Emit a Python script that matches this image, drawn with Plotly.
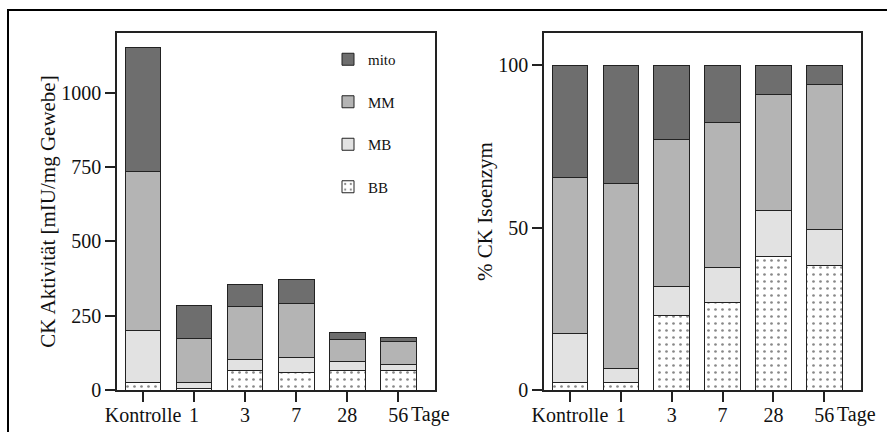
import plotly.graph_objects as go

categories = ["Kontrolle", "1", "3", "7", "28", "56"]
unit_label = "Tage"
series_names = ["BB", "MB", "MM", "mito"]

# absolute activity [mIU/mg Gewebe]
abs_BB = [25, 6, 67, 58, 64, 65]
abs_MB = [174, 20, 37, 52, 31, 21]
abs_MM = [537, 148, 177, 180, 76, 77]
abs_mito = [415, 109, 73, 81, 22, 15]

# percentage of CK isoenzyme
pct_BB = [2.2, 2.4, 23.1, 26.9, 41.2, 38.4]
pct_MB = [15.1, 4.1, 8.8, 11.0, 14.1, 11.0]
pct_MM = [48.3, 57.1, 45.3, 44.4, 35.9, 44.8]
pct_mito = [34.4, 36.4, 22.8, 17.7, 8.8, 5.8]

left_ticks = [0, 250, 500, 750, 1000]
right_ticks = [0, 50, 100]

colors = {"mito": "#6e6e6e", "MM": "#b4b4b4", "MB": "#e2e2e2", "BB": "#ffffff"}
legend_rank = {"mito": 1, "MM": 2, "MB": 3, "BB": 4}
FONT = "Liberation Serif"
TICK_SIZE = 20

xpos = list(range(len(categories)))

fig = go.Figure()

abs_data = {"BB": abs_BB, "MB": abs_MB, "MM": abs_MM, "mito": abs_mito}
pct_data = {"BB": pct_BB, "MB": pct_MB, "MM": pct_MM, "mito": pct_mito}


def make_marker(name):
    marker = dict(color=colors[name], line=dict(color="#222", width=1))
    if name == "BB":
        marker["pattern"] = dict(shape=".", fgcolor="#111", bgcolor="white",
                                 size=7, solidity=0.12)
    return marker


for name in series_names:
    fig.add_trace(go.Bar(x=xpos, y=abs_data[name], name=name, marker=make_marker(name),
                         width=0.7, xaxis="x", yaxis="y", legendgroup=name,
                         legendrank=legend_rank[name], showlegend=True))
for name in series_names:
    fig.add_trace(go.Bar(x=xpos, y=pct_data[name], name=name, marker=make_marker(name),
                         width=0.7, xaxis="x2", yaxis="y2", legendgroup=name,
                         legendrank=legend_rank[name], showlegend=False))

axis_common = dict(showgrid=False, zeroline=False, showline=True, mirror=True,
                   linecolor="#222", linewidth=1.5, ticks="outside", ticklen=10,
                   tickwidth=1.5, tickcolor="#222", automargin=False,
                   tickfont=dict(family=FONT, size=TICK_SIZE, color="#111"))

annotations = []
for xa in ["x", "x2"]:
    annotations.append(dict(text=unit_label, x=xpos[-1], xref=xa, xanchor="left",
                            xshift=11, y=1 - 414 / 432, yref="paper", yanchor="middle",
                            showarrow=False,
                            font=dict(family=FONT, size=TICK_SIZE, color="#111")))

fig.update_layout(
    width=887, height=432,
    margin=dict(l=0, r=0, t=0, b=0),
    paper_bgcolor="white", plot_bgcolor="white",
    barmode="stack",
    font=dict(family=FONT, color="#111"),
    xaxis=dict(domain=[117 / 887, 435 / 887], range=[-0.51, 5.72], tickangle=0,
               ticklabelstandoff=-4,
               tickvals=xpos, ticktext=categories, anchor="y", **axis_common),
    yaxis=dict(domain=[1 - 390 / 432, 1 - 33 / 432], range=[0, 1200],
               tickvals=left_ticks, anchor="x",
               title=dict(text="CK Aktivität [mIU/mg Gewebe]", standoff=0,
                          font=dict(family=FONT, size=21, color="#111")),
               **axis_common),
    xaxis2=dict(domain=[544 / 887, 861 / 887], range=[-0.51, 5.72], tickangle=0,
                ticklabelstandoff=-4,
                tickvals=xpos, ticktext=categories, anchor="y2", **axis_common),
    yaxis2=dict(domain=[1 - 390 / 432, 1 - 33 / 432], range=[0, 110],
                tickvals=right_ticks, anchor="x2",
                title=dict(text="% CK Isoenzym", standoff=0,
                           font=dict(family=FONT, size=21, color="#111")),
                **axis_common),
    legend=dict(x=328 / 887, y=1 - 43 / 432, xanchor="left", yanchor="top",
                traceorder="grouped", tracegroupgap=20,
                font=dict(family=FONT, size=15, color="#111"),
                bgcolor="rgba(0,0,0,0)"),
    annotations=annotations,
    shapes=[dict(type="rect", xref="paper", yref="paper",
                 x0=8 / 887, x1=1.05, y0=-0.05, y1=1 - 10 / 432,
                 line=dict(color="black", width=2))],
)

fig.write_html("out.html")
